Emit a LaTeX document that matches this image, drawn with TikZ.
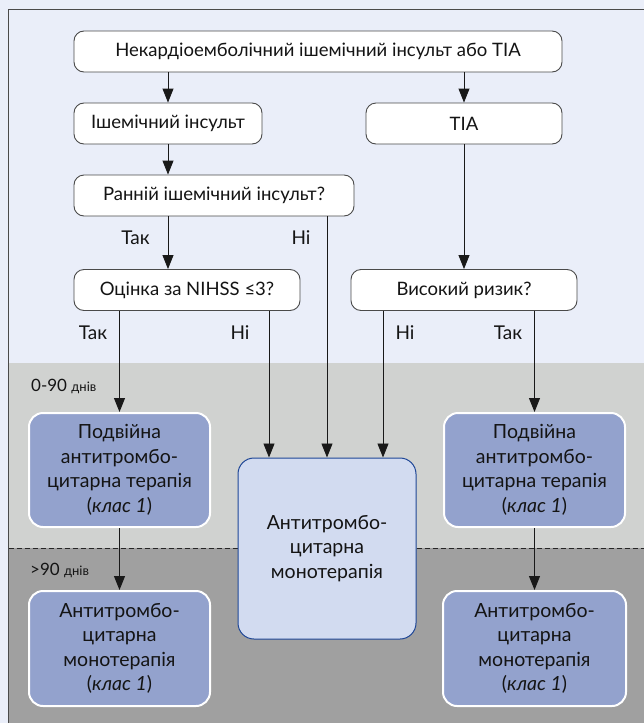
\documentclass[tikz,border=0pt]{standalone}
\usepackage{fontspec}
\setmainfont{Lato}
\usetikzlibrary{arrows.meta}
\definecolor{bgblue}{HTML}{EAEEF9}
\definecolor{lgray}{HTML}{D0D2D0}
\definecolor{dgray}{HTML}{A0A0A0}
\definecolor{boxblue}{HTML}{93A2CD}
\definecolor{monofill}{HTML}{D2DBF0}
\definecolor{monoline}{HTML}{1E4696}
\definecolor{txt}{HTML}{141414}
\definecolor{framec}{HTML}{4A4A4A}
\tikzset{
  qbox/.style={draw=framec, fill=white, line width=0.9pt, rounded corners=10pt,
    minimum height=41pt, inner sep=0pt, text=txt, font=\fontsize{18.5}{22}\selectfont},
  tbox/.style={draw=white, fill=boxblue, line width=2pt, rounded corners=14pt,
    minimum width=181pt, minimum height=114pt, inner sep=0pt, align=center, text=txt,
    font=\fontsize{19.5}{24.5}\selectfont},
  mbox/.style={draw=monoline, fill=monofill, line width=1pt, rounded corners=16pt,
    minimum width=178pt, minimum height=181pt, inner sep=0pt, align=center, text=txt,
    font=\fontsize{19.5}{24.5}\selectfont},
  lab/.style={text=txt, inner sep=0pt, font=\fontsize{19}{22}\selectfont},
  arr/.style={draw=black!90, line width=0.9pt, -{Triangle[width=11pt,length=14pt]}},
  ln/.style={draw=black!90, line width=0.9pt}
}
\begin{document}
\begin{tikzpicture}[x=1pt,y=-1pt]
\useasboundingbox (0,0) rectangle (644,723);
% backgrounds
\fill[bgblue] (0,0) rectangle (644,723);
\fill[lgray] (8.5,363) rectangle (644,548);
\fill[dgray] (8.5,548) rectangle (644,723);
\draw[black!85, line width=0.7pt, dash pattern=on 5pt off 3pt] (8.5,548) -- (644,548);
\draw[framec, line width=1pt] (8.5,730) -- (8.5,9.5) -- (650,9.5);
% question nodes
\node[qbox, minimum width=488pt] (top) at (318,51.5) {Некардіоемболічний ішемічний інсульт або TIA};
\node[qbox, minimum width=188pt] (isch) at (168,123.5) {Ішемічний інсульт};
\node[qbox, minimum width=196pt] (tia) at (464,123.5) {TIA};
\node[qbox, minimum width=280pt] (early) at (214,195.5) {Ранній ішемічний інсульт?};
\node[qbox, minimum width=226pt] (nihss) at (187,290) {Оцінка за NIHSS ≤3?};
\node[qbox, minimum width=226pt] (risk) at (464,290) {Високий ризик?};
% treatment nodes
\node[tbox] (dualL) at (119.5,470) {Подвійна\\антитромбо-\\цитарна терапія\\(\textit{клас 1})};
\node[tbox] (dualR) at (534.5,470) {Подвійна\\антитромбо-\\цитарна терапія\\(\textit{клас 1})};
\node[tbox, minimum height=115pt] (monoL) at (119.5,648.5) {Антитромбо-\\цитарна\\монотерапія\\(\textit{клас 1})};
\node[tbox, minimum width=183pt, minimum height=115pt] (monoR) at (534.5,648.5) {Антитромбо-\\цитарна\\монотерапія\\(\textit{клас 1})};
\node[mbox] (mono) at (327,548.5) {Антитромбо-\\цитарна\\монотерапія};
% period labels
\node[lab, anchor=west] (p1) at (31,386.5) {\fontsize{17}{20}\selectfont 0-90 \fontsize{13}{15}\selectfont днів};
\node[lab, anchor=west] (p2) at (30,570.5) {\fontsize{17}{20}\selectfont >90 \fontsize{13}{15}\selectfont днів};
% branch labels
\node[lab] (l1) at (135.5,238) {Так};
\node[lab] (l2) at (301,238) {Ні};
\node[lab] (l3) at (93,333) {Так};
\node[lab] (l4) at (240,333) {Ні};
\node[lab] (l5) at (405,333) {Ні};
\node[lab] (l6) at (508,333) {Так};
% helper coordinates
\coordinate (mA) at ([xshift=-58pt]mono.north);
\coordinate (mC) at ([xshift=56pt]mono.north);
% connectors
\draw[arr] (top.south -| isch.north) -- (isch.north);
\draw[arr] (top.south -| tia.north) -- (tia.north);
\draw[arr] (isch.south) -- (isch.south |- early.north);
\draw[arr] (isch.south |- early.south) -- (isch.south |- nihss.north);
\draw[arr] (tia.south) -- (risk.north);
\draw[arr] (mono.north |- early.south) -- (mono.north);
\draw[arr] (dualL.north |- nihss.south) -- (dualL.north);
\draw[arr] (mA |- nihss.south) -- (mA);
\draw[arr] (mC |- risk.south) -- (mC);
\draw[arr] (dualR.north |- risk.south) -- (dualR.north);
\draw[arr] (dualL.south) -- (monoL.north);
\draw[arr] (dualR.south) -- (monoR.north);
\end{tikzpicture}
\end{document}
